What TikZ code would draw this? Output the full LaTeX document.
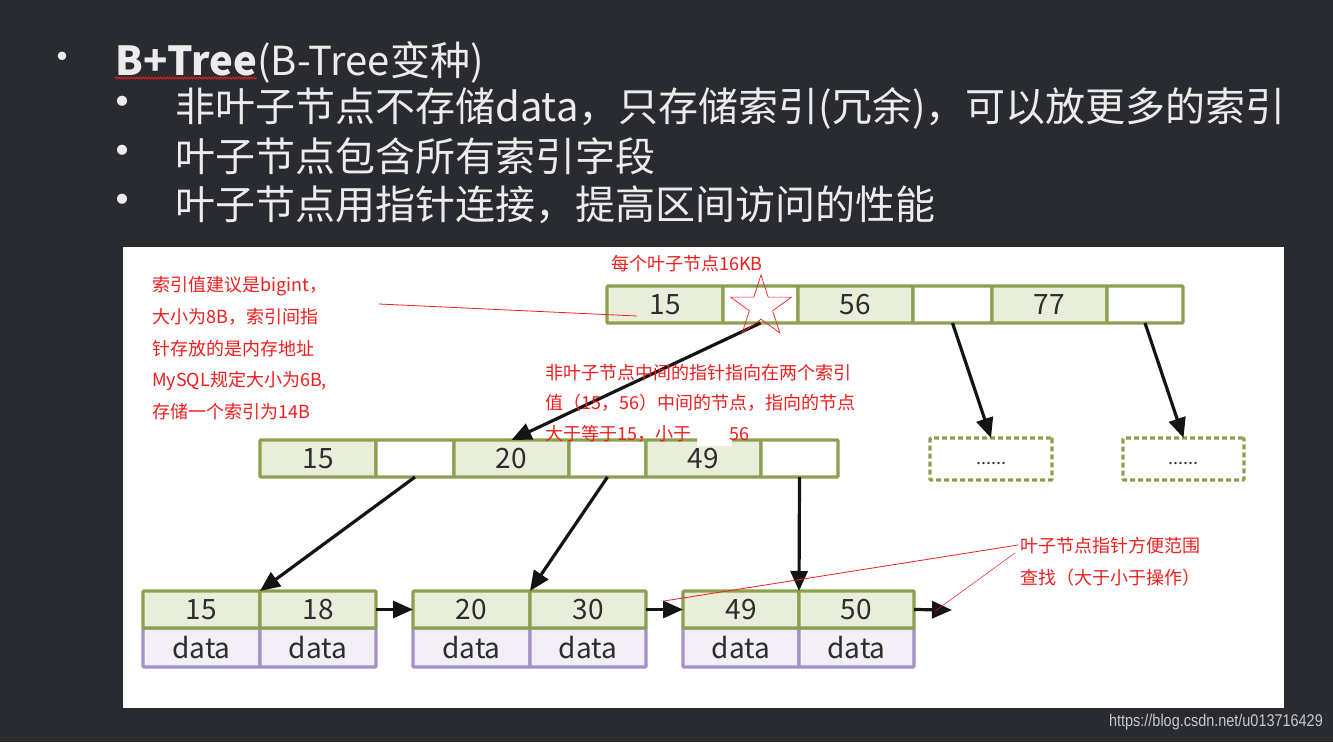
\documentclass[tikz,border=0pt]{standalone}
\usepackage{fontspec}
\setmainfont{Noto Sans CJK SC}
\newfontfamily\wmfont[FakeStretch=0.85]{Liberation Sans}
\usetikzlibrary{arrows.meta,shapes.geometric,decorations.pathmorphing}
\definecolor{bg}{RGB}{42,43,48}
\definecolor{ttext}{RGB}{236,236,236}
\definecolor{gborder}{RGB}{140,160,80}
\definecolor{gfill}{RGB}{233,238,219}
\definecolor{pborder}{RGB}{165,145,200}
\definecolor{pfill}{RGB}{242,239,246}
\definecolor{ared}{RGB}{240,30,30}
\definecolor{ink}{RGB}{20,20,20}
\definecolor{numc}{RGB}{45,45,45}
\definecolor{wmc}{RGB}{200,200,200}
\begin{document}
\begin{tikzpicture}[x=1pt,y=-1pt,
  cellbase/.style={anchor=north west, inner sep=0pt, outer sep=0pt, minimum height=37pt,
    line width=3.2pt, rounded corners=1pt, font=\fontsize{28}{28}\selectfont, text=numc},
  kcell/.style={cellbase, draw=gborder, fill=gfill},
  pcell/.style={cellbase, draw=gborder, fill=white},
  dcell/.style={cellbase, draw=pborder, fill=pfill, minimum height=39pt},
  dashcell/.style={cellbase, draw=gborder, dash pattern=on 5pt off 3pt, minimum height=42pt,
    font=\fontsize{18}{18}\selectfont},
  conn/.style={-{Triangle[length=20pt,width=17pt]}, line width=3.2pt, draw=ink},
  title/.style={anchor=base west, text=ttext, font=\fontsize{40}{40}\selectfont, inner sep=0pt},
  bul/.style={text=ttext, font=\fontsize{40}{40}\selectfont, inner sep=0pt},
  note/.style={anchor=base west, text=ared, font=\fontsize{18}{18}\selectfont, inner sep=0pt},
  redline/.style={draw=ared, line width=0.8pt}
]
\useasboundingbox (0,0) rectangle (1333,742);
\fill[bg] (0,0) rectangle (1333,742);
\fill[white] (123,247) rectangle (1284,708);

% title bullets
\node[bul] (b1) at (62,62) {•};
\node[bul, scale=1.2] (b2) at (122,108) {•};
\node[bul, scale=1.2] (b3) at (122,157) {•};
\node[bul, scale=1.2] (b4) at (122,206) {•};
\node[title] (bt) at (115,75) {\textbf{B+Tree}};
\node[title, anchor=base west] (bt2) at (bt.base east) {(B-Tree变种)};
\draw[ared, line width=0.8pt, decorate, decoration={snake, amplitude=1pt, segment length=3pt}]
  ([yshift=-3pt]bt.base west) -- ([yshift=-3pt]bt.base east);
\node[title] (s1) at (175,121) {非叶子节点不存储data，只存储索引(冗余)，可以放更多的索引};
\node[title] (s2) at (175,171) {叶子节点包含所有索引字段};
\node[title] (s3) at (175,219) {叶子节点用指针连接，提高区间访问的性能};

% root node
\node[kcell, minimum width=116pt] (t1) at (607,286) {15};
\node[pcell, minimum width=75pt]  (t2) at (723,286) {};
\node[kcell, minimum width=115pt] (t3) at (798,286) {56};
\node[pcell, minimum width=79pt]  (t4) at (913,286) {};
\node[kcell, minimum width=115pt] (t5) at (992,286) {77};
\node[pcell, minimum width=76pt]  (t6) at (1107,286) {};

% middle node
\node[kcell, minimum width=116pt] (m1) at (260,440) {15};
\node[pcell, minimum width=78pt]  (m2) at (376,440) {};
\node[kcell, minimum width=115pt] (m3) at (454,440) {20};
\node[pcell, minimum width=77pt]  (m4) at (569,440) {};
\node[kcell, minimum width=115pt] (m5) at (646,440) {49};
\node[pcell, minimum width=77pt]  (m6) at (761,440) {};

% dashed nodes
\node[dashcell, minimum width=122pt] (d1) at (930,438) {\raisebox{-5pt}[0pt][0pt]{......}};
\node[dashcell, minimum width=121pt] (d2) at (1123,438) {\raisebox{-5pt}[0pt][0pt]{......}};

% leaves: data rows
\node[dcell, minimum width=117pt] (l1c) at (143,628) {data};
\node[dcell, minimum width=116pt] (l1d) at (260,628) {data};
\node[dcell, minimum width=117pt] (l2c) at (413,628) {data};
\node[dcell, minimum width=116pt] (l2d) at (530,628) {data};
\node[dcell, minimum width=116pt] (l3c) at (683,628) {data};
\node[dcell, minimum width=115pt] (l3d) at (799,628) {data};
% leaves: key rows
\node[kcell, minimum width=117pt] (l1a) at (143,591) {15};
\node[kcell, minimum width=116pt] (l1b) at (260,591) {18};
\node[kcell, minimum width=117pt] (l2a) at (413,591) {20};
\node[kcell, minimum width=116pt] (l2b) at (530,591) {30};
\node[kcell, minimum width=116pt] (l3a) at (683,591) {49};
\node[kcell, minimum width=115pt] (l3b) at (799,591) {50};
\coordinate (lend) at (952,610);

% connectors
\draw[conn] (t2.south) -- (m3.north);
\draw[conn] (t4.south) -- (d1.north);
\draw[conn] (t6.south) -- (d2.north);
\draw[conn] (m2.south) -- (l1a.north east);
\draw[conn] (m4.south) -- (l2a.north east);
\draw[conn] (m6.south) -- (l3a.north east);
\draw[conn] (l1b.east) -- (l2a.west);
\draw[conn] (l2b.east) -- (l3a.west);
\draw[conn] (l3b.east) -- (lend);

% red annotations
\node[note] (k16) at (611,270) {每个叶子节点16KB};
\node[star, star points=5, star point ratio=2.618, minimum size=64pt, inner sep=0pt,
  draw=ared, line width=0.7pt] (st) at (761,307) {};
\coordinate (ra) at (379,304);
\coordinate (rb) at (637,316);
\draw[redline] (ra) -- (rb);

\node[note] (a1) at (152,291) {索引值建议是bigint，};
\node[note] (a2) at (152,323) {大小为8B，索引间指};
\node[note] (a3) at (152,355) {针存放的是内存地址};
\node[note] (a4) at (152,386) {MySQL规定大小为6B,};
\node[note] (a5) at (152,418) {存储一个索引为14B};

\fill[white] (697,426) rectangle (732,446);
\node[note] (c1) at (545,379) {非叶子节点中间的指针指向在两个索引};
\node[note] (c2) at (545,409) {值（15，56）中间的节点，指向的节点};
\node[note] (c3) at (545,440) {大于等于15，小于\hspace{38pt}56};

\node[note] (r1) at (1020,552) {叶子节点指针方便范围};
\node[note] (r2) at (1020,584) {查找（大于小于操作）};
\coordinate (rp1) at (1018,545);
\coordinate (rq1) at (664,601);
\coordinate (rp2) at (1015,553);
\coordinate (rq2) at (935,611);
\draw[redline] (rp1) -- (rq1);
\draw[redline, line width=0.5pt] (rp2) -- (rq2);

% watermark
\node[anchor=east, text=wmc, font=\wmfont\fontsize{17}{17}\selectfont, inner sep=0pt] (wm) at (1323,722) {https://blog.csdn.net/u013716429};
\end{tikzpicture}
\end{document}
